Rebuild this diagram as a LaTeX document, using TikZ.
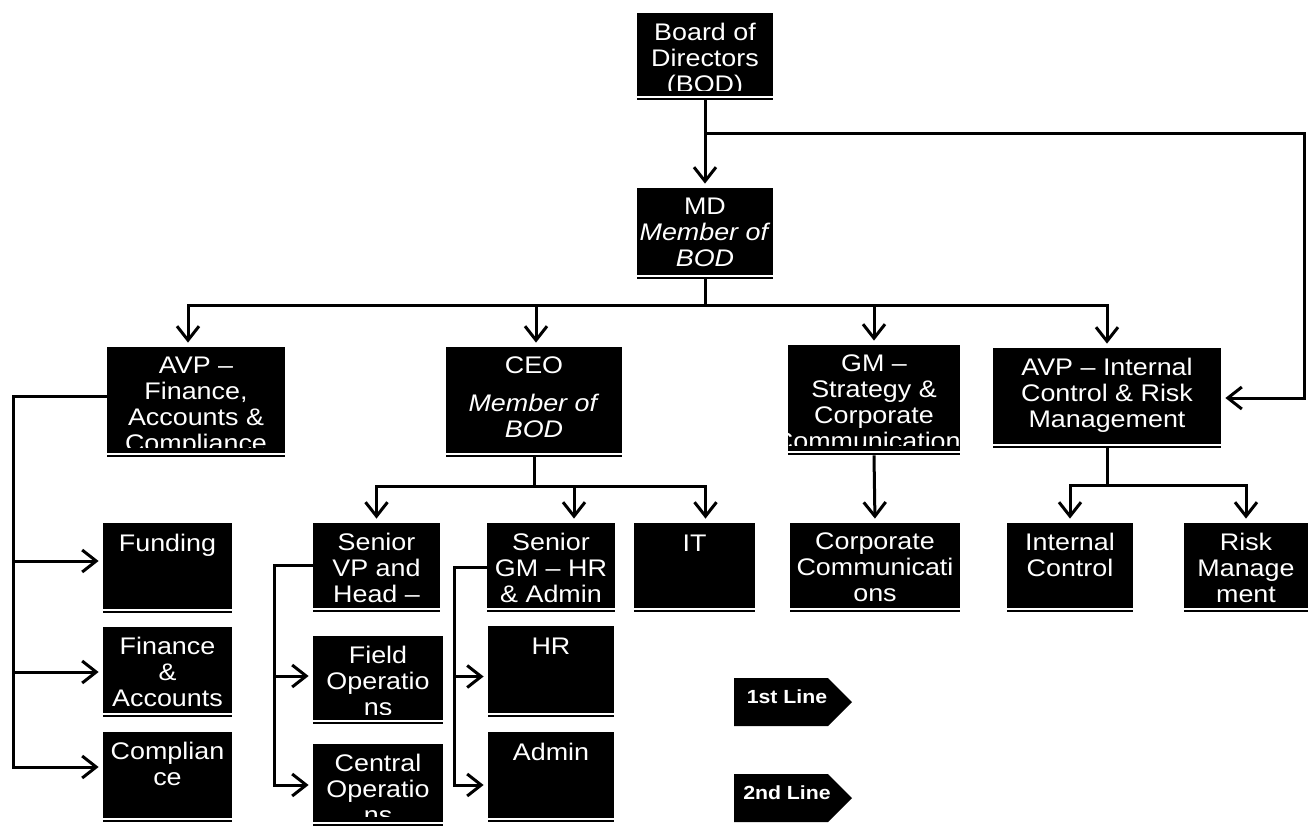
\documentclass[tikz,border=0pt]{standalone}
\usepackage{fontspec}
\setmainfont{Liberation Sans}[FakeStretch=1.12]
\usetikzlibrary{arrows.meta,shapes.symbols}
\tikzset{
  obox/.style={fill=black, draw=none, inner sep=0pt, rectangle},
  btext/.style={text=white, anchor=north, align=center, inner sep=0pt,
    fill=none, draw=none, minimum width=0pt, minimum height=0pt,
    font=\fontsize{12}{13}\selectfont, execute at begin node=\strut},
  ln/.style={line width=1.5pt},
  arr/.style={line width=1.5pt, -{Straight Barb[length=7pt,width=11pt]}, shorten >=2pt},
  leg/.style={signal, signal to=east, fill=black, draw=none, inner sep=0pt,
    minimum width=59pt, minimum height=24pt},
  legtext/.style={text=white, inner sep=0pt, fill=none, draw=none,
    minimum width=0pt, minimum height=0pt, font=\bfseries\fontsize{9.5}{11}\selectfont}
}
\newcommand{\obox}[6]{%
  \node[obox, minimum width={(#4-#2)*0.5pt}, minimum height={(#5-#3)*0.5pt},
    path picture={
      \draw[white,line width=0.7pt] ([yshift=1.6pt]path picture bounding box.south west) -- ([yshift=1.6pt]path picture bounding box.south east);
      \clip ([yshift=5pt]path picture bounding box.south west) rectangle (path picture bounding box.north east);
      \node[btext] at ([yshift=-4.9pt]path picture bounding box.north) {#6};
    }] (#1) at ({(#2+#4)/2},{(#3+#5)/2}) {};}
\begin{document}
\begin{tikzpicture}[x=0.5pt,y=-0.5pt]
\fill[white] (0,0) rectangle (1308,826);
\useasboundingbox (0,0) rectangle (1308,826);

% boxes
\obox{bod}{637}{13}{773}{100}{Board of\\Directors\\(BOD)}
\obox{md}{637}{188}{773}{279}{MD\\\textit{Member of}\\\textit{BOD}}
\obox{avpf}{107}{347}{285}{457}{AVP –\\Finance,\\Accounts \&\\Compliance}
\obox{ceo}{446}{347}{622}{457}{CEO\\[6pt]\textit{Member of}\\\textit{BOD}}
\obox{gm}{788}{345}{960}{455}{GM –\\Strategy \&\\Corporate\\Communications}
\obox{avpic}{993}{348}{1221}{448}{AVP – Internal\\Control \& Risk\\Management}
\obox{funding}{103}{523}{232}{613}{Funding}
\obox{finacc}{103}{627}{232}{717}{Finance\\\&\\Accounts}
\obox{compl}{103}{732}{232}{822}{Complian\\ce}
\obox{svp}{313}{523}{440}{612}{Senior\\VP and\\Head –}
\obox{sgm}{487}{523}{615}{612}{Senior\\GM – HR\\\& Admin}
\obox{it}{634}{523}{755}{612}{IT}
\obox{cc}{790}{523}{960}{612}{Corporate\\Communicati\\ons}
\obox{ic}{1007}{523}{1133}{612}{Internal\\Control}
\obox{risk}{1184}{523}{1308}{612}{Risk\\Manage\\ment}
\obox{field}{313}{636}{443}{724}{Field\\Operatio\\ns}
\obox{central}{313}{744}{443}{826}{Central\\Operatio\\ns}
\obox{hr}{488}{626}{614}{717}{HR}
\obox{admin}{488}{732}{614}{822}{Admin}

% legend
\node[leg, path picture={\node[legtext] at ([xshift=-3pt,yshift=2.5pt]path picture bounding box.center) {1st Line};}] (leg1) at (781,702) {};
\node[leg, path picture={\node[legtext] at ([xshift=-3pt,yshift=2.5pt]path picture bounding box.center) {2nd Line};}] (leg2) at (781,798) {};

% connectors
\draw[arr] (bod.south) -- (md.north);
\draw[arr] (bod.south) |- (1304,133) |- (avpic.east);

\coordinate (mdj) at (705,305);
\draw[ln] (md.south) -- (mdj);
\draw[arr] (mdj) -| ([xshift=-4pt]avpf.north);
\draw[arr] (mdj) -| ([xshift=1pt]ceo.north);
\draw[arr] (mdj) -| (gm.north);
\draw[arr] (mdj) -| (avpic.north);

\draw[arr] ([yshift=3pt]avpf.west) -- ++(-93,0) |- ([yshift=3.5pt]funding.west);
\draw[arr] ([yshift=3pt]avpf.west) -- ++(-93,0) |- (finacc.west);
\draw[arr] ([yshift=3pt]avpf.west) -- ++(-93,0) |- ([yshift=5pt]compl.west);

\coordinate (ceoj) at (534,486);
\draw[ln] (ceo.south) -- (ceoj);
\draw[arr] (ceoj) -| (svp.north);
\draw[arr] (ceoj) -| ([xshift=11.5pt]sgm.north);
\draw[arr] (ceoj) -| ([xshift=5.5pt]it.north);

\draw[arr] ([yshift=1pt]svp.west) -- ++(-38,0) |- ([yshift=2pt]field.west);
\draw[arr] ([yshift=1pt]svp.west) -- ++(-38,0) |- (central.west);

\draw[arr] (sgm.west) -- ++(-32,0) |- ([yshift=-2.5pt]hr.west);
\draw[arr] (sgm.west) -- ++(-32,0) |- ([yshift=-4pt]admin.west);

\draw[arr] (gm.south) -- (cc.north);

\coordinate (icj) at (1107,485);
\draw[ln] (avpic.south) -- (icj);
\draw[arr] (icj) -| (ic.north);
\draw[arr] (icj) -| (risk.north);
\end{tikzpicture}
\end{document}
